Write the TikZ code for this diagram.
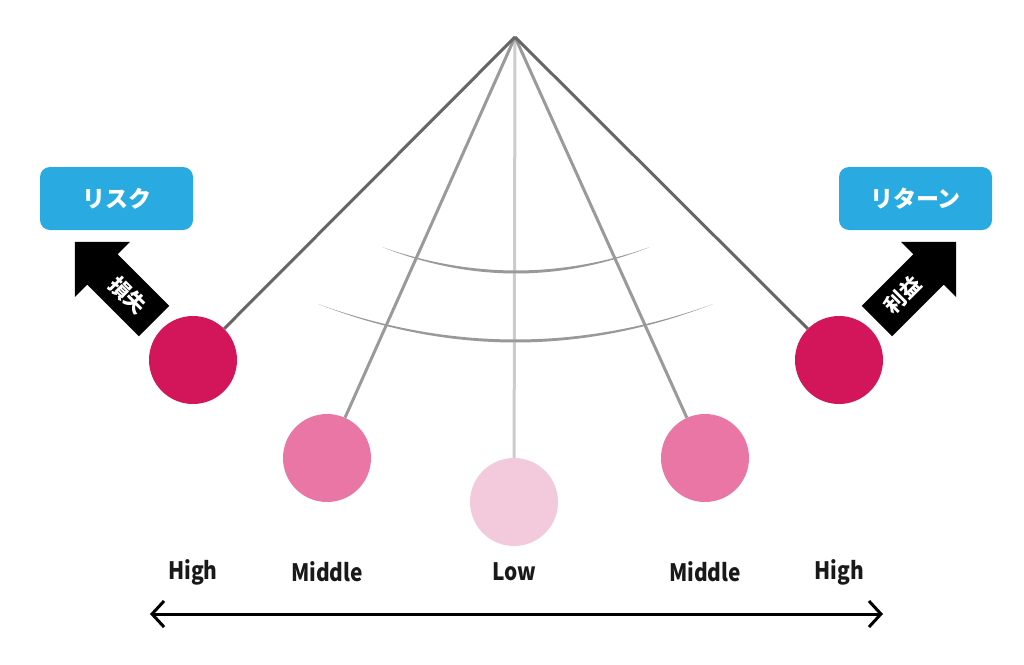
\documentclass[tikz,border=0pt]{standalone}
\usepackage{fontspec}
\setmainfont{Noto Sans CJK JP}
\newfontfamily\narrowfont{Noto Sans CJK JP}[FakeStretch=0.87]
\usepackage{xcolor}
\usepackage{tikz}
\usetikzlibrary{arrows.meta}

\definecolor{ballhigh}{HTML}{D31659}
\definecolor{ballmid}{HTML}{EA76A5}
\definecolor{balllow}{HTML}{F2CADC}
\definecolor{boxblue}{HTML}{29ABE2}
\definecolor{ropedark}{HTML}{666666}
\definecolor{ropemid}{HTML}{9A9A9A}
\definecolor{ropelight}{HTML}{CCCCCC}
\definecolor{swinggray}{HTML}{999999}

\begin{document}
\begin{tikzpicture}[x=1pt, y=-1pt,
    ball/.style={circle, minimum size=88pt, inner sep=0pt},
    rope/.style={line width=3pt},
    box/.style={rectangle, rounded corners=10pt, fill=boxblue, minimum width=153pt, minimum height=63pt, text=white, font=\bfseries\fontsize{23}{23}\selectfont},
    tag/.style={text=white, inner sep=0pt, font=\bfseries\fontsize{21}{21}\selectfont},
    scaletext/.style={text=black!90, font=\narrowfont\bfseries\fontsize{24}{24}\selectfont},
    axis/.style={{Straight Barb[length=12pt,width=26pt]}-{Straight Barb[length=12pt,width=26pt]}, line width=3pt}]

    \useasboundingbox (0,0) rectangle (1024,664);

    \coordinate (pivot) at (515,37);

    % balls
    \node[ball, fill=ballhigh] (highL) at (193,360) {};
    \node[ball, fill=ballmid] (midL) at (327,458) {};
    \node[ball, fill=balllow] (low) at (514,502) {};
    \node[ball, fill=ballmid] (midR) at (705,458) {};
    \node[ball, fill=ballhigh] (highR) at (839,360) {};

    % ropes
    \draw[rope, ropelight] (pivot) -- (low);
    \draw[rope, ropemid] (pivot) -- (midL);
    \draw[rope, ropemid] (pivot) -- (midR);
    \draw[rope, ropedark] (pivot) -- (highL);
    \draw[rope, ropedark] (pivot) -- (highR);

    % swing marks
    \fill[swinggray] (382,247) .. controls (471.3,278.3) and (560.7,278.3) .. (650,247)
        .. controls (560.7,282.3) and (471.3,282.3) .. (382,247) -- cycle;
    \fill[swinggray] (318,304) .. controls (449.7,351.3) and (581.3,351.3) .. (713,304)
        .. controls (581.3,355.3) and (449.7,355.3) .. (318,304) -- cycle;

    % boxes
    \node[box] (risk) at (116.5,198.5) {リスク};
    \node[box] (return) at (915.5,198.5) {リターン};

    % loss arrow
    \begin{scope}[shift={(114.5,281.5)}, rotate=135]
        \fill[black] (-56,-21.5) -- (17,-21.5) -- (17,-39) -- (56,0) -- (17,39) -- (17,21.5) -- (-56,21.5) -- cycle;
        \node[tag, rotate=-45] (loss) at (-19.5,0) {損失};
    \end{scope}

    % profit arrow
    \begin{scope}[shift={(916.5,281.5)}, rotate=45]
        \fill[black] (-56,-21.5) -- (17,-21.5) -- (17,-39) -- (56,0) -- (17,39) -- (17,21.5) -- (-56,21.5) -- cycle;
        \node[tag, rotate=45] (profit) at (-19.5,0) {利益};
    \end{scope}

    % scale
    \node[scaletext] (highLtext) at (193,572) {High};
    \node[scaletext] (midLtext) at (327,572) {Middle};
    \node[scaletext] (lowtext) at (514,572) {Low};
    \node[scaletext] (midRtext) at (705,572) {Middle};
    \node[scaletext] (highRtext) at (839,572) {High};

    \coordinate (axisL) at (150,614);
    \coordinate (axisR) at (883,614);
    \draw[axis] (axisL) -- (axisR);

\end{tikzpicture}
\end{document}
